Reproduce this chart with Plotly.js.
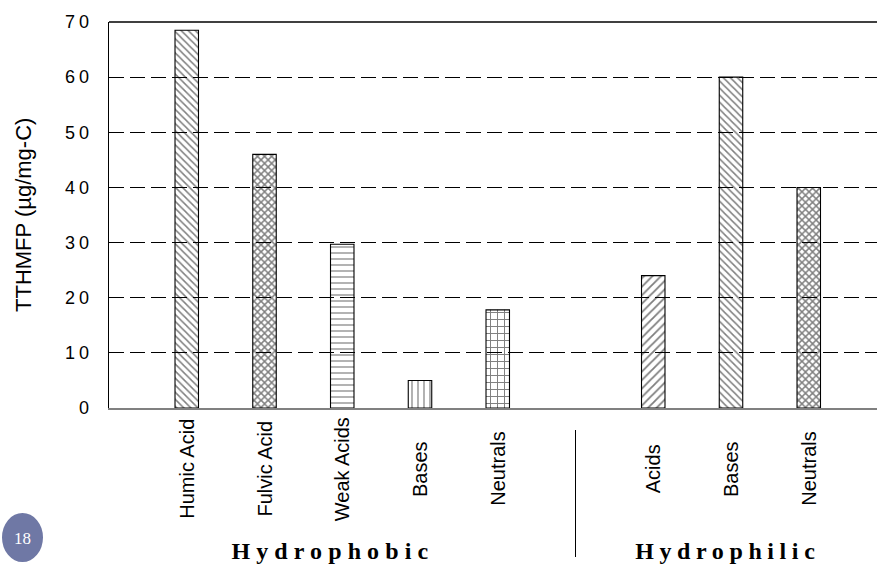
<!DOCTYPE html>
<html>
<head>
<meta charset="utf-8">
<script src="https://cdn.plot.ly/plotly-3.0.1.min.js"></script>
<style>
  html, body { margin: 0; padding: 0; background: #fff; }
  #chart { width: 877px; height: 567px; }
  /* spaced-out tick numbers */
  #chart .ytick text { letter-spacing: 4px; }
</style>
</head>
<body>
<div id="chart"></div>
<script>
// TTHM formation potential of DOM fractions
const hydrophobicLabels = ['Humic Acid', 'Fulvic Acid', 'Weak Acids', 'Bases', 'Neutrals'];
const hydrophobicValues = [68.5, 46, 29.7, 5, 17.8];
const hydrophilicLabels = ['Acids', 'Bases', 'Neutrals'];
const hydrophilicValues = [24, 60, 40];
const groupNames = ['Hydrophobic', 'Hydrophilic'];
const yTickValues = [0, 10, 20, 30, 40, 50, 60, 70];
const yTitle = 'TTHMFP (µg/mg-C)';
const pageNumber = '18';

// fill pattern for each bar, in drawing order
const hatchShapes = ['\\', 'x', '-', '|', '+', '/', '\\', 'x'];
const hatchSizes = [5, 5, 6, 6, 7, 6, 5, 5];
const hatchSolidity = [0.3, 0.5, 0.2, 0.2, 0.26, 0.3, 0.3, 0.5];

// slot positions: hydrophobic fractions first, one empty slot, then hydrophilic
const hydrophobicX = hydrophobicLabels.map((_, i) => i + 1);
const gapX = hydrophobicLabels.length + 1;
const hydrophilicX = hydrophilicLabels.map((_, i) => gapX + i + 1);
const allX = hydrophobicX.concat(hydrophilicX);
const allY = hydrophobicValues.concat(hydrophilicValues);
const allLabels = hydrophobicLabels.concat(hydrophilicLabels);

const W = 877, H = 567;
const M = { l: 109, r: 0, t: 22, b: 159 };
const plotH = H - M.t - M.b;
const plotW = W - M.l - M.r;
// pixel helpers for decorations in the margins
const pyToPaper = py => (H - M.b - py) / plotH;
const pxToPaper = px => (px - M.l) / plotW;

const trace = {
  type: 'bar',
  x: allX,
  y: allY,
  width: 0.302,
  marker: {
    color: 'rgba(255,255,255,0)',
    line: { color: '#000', width: 1.1 },
    pattern: {
      shape: hatchShapes,
      size: hatchSizes,
      solidity: hatchSolidity,
      fgcolor: '#000',
      bgcolor: 'rgba(255,255,255,0)',
      fillmode: 'overlay'
    }
  },
  hoverinfo: 'none'
};

const sans = 'Liberation Sans, Arial, sans-serif';
const annotations = [];
allLabels.forEach((lab, i) => {
  annotations.push({
    text: lab, x: allX[i], xref: 'x', y: pyToPaper(469), yref: 'paper',
    textangle: -90, showarrow: false, xanchor: 'center', yanchor: 'middle',
    font: { family: sans, size: 20, color: '#000' }
  });
});
// y-axis title
annotations.push({
  text: yTitle, x: pxToPaper(23), xref: 'paper', y: 0.5, yref: 'paper',
  textangle: -90, showarrow: false, xanchor: 'center', yanchor: 'middle',
  font: { family: sans, size: 22, color: '#000' }
});
const groupCenters = [
  (hydrophobicX[0] + hydrophobicX[hydrophobicX.length - 1]) / 2,
  (hydrophilicX[0] + hydrophilicX[hydrophilicX.length - 1]) / 2
];
const groupShift = [-9, -3];
const groupSpacing = ['6.1px', '5.6px'];
groupNames.forEach((g, i) => {
  annotations.push({
    text: '<b>' + g + '</b>', x: groupCenters[i], xref: 'x', xshift: groupShift[i],
    y: pyToPaper(551), yref: 'paper', showarrow: false,
    xanchor: 'center', yanchor: 'middle',
    font: { family: 'Liberation Serif, Times New Roman, serif', size: 24, color: '#000' }
  });
});
annotations.push({
  text: pageNumber, x: pxToPaper(22), xref: 'paper', y: pyToPaper(538), yref: 'paper',
  showarrow: false, xanchor: 'center', yanchor: 'middle',
  font: { family: 'Liberation Serif, serif', size: 17, color: '#fff' }
});

const shapes = [
  // solid top border
  { type: 'line', xref: 'paper', yref: 'paper', x0: 0, x1: 1, y0: 1, y1: 1,
    line: { color: '#000', width: 1.3 } },
  // divider between the two fraction groups
  { type: 'line', xref: 'x', yref: 'paper', x0: gapX, x1: gapX,
    y0: pyToPaper(430), y1: pyToPaper(557), line: { color: '#000', width: 1 } },
  // page-number badge
  { type: 'circle', xref: 'paper', yref: 'paper', layer: 'below',
    x0: pxToPaper(2), x1: pxToPaper(43), y0: pyToPaper(562), y1: pyToPaper(513),
    fillcolor: '#6f78a5', line: { width: 0 } }
];

const layout = {
  width: W, height: H,
  margin: M,
  paper_bgcolor: '#fff', plot_bgcolor: 'rgba(0,0,0,0)',
  showlegend: false,
  bargap: 0,
  xaxis: {
    range: [0, plotW / 77.75],
    showgrid: false, zeroline: false,
    showticklabels: false, ticks: '',
    showline: true, linecolor: '#808080', linewidth: 1.5,
    fixedrange: true
  },
  yaxis: {
    range: [0, 70],
    tickvals: yTickValues,
    ticks: '',
    showline: true, linecolor: '#000', linewidth: 1.3,
    showgrid: true, gridcolor: '#000', gridwidth: 1, griddash: '15px,6px',
    zeroline: false,
    tickfont: { family: sans, size: 18, color: '#000' },
    ticklabelstandoff: 11,
    fixedrange: true
  },
  annotations: annotations,
  shapes: shapes
};

Plotly.newPlot('chart', [trace], layout, { staticPlot: true, displayModeBar: false }).then(() => {
  // widen the spacing of the group captions
  document.querySelectorAll('.annotation-text').forEach(t => {
    const k = groupNames.indexOf(t.textContent);
    if (k >= 0) t.setAttribute('letter-spacing', groupSpacing[k]);
  });
});
</script>
</body>
</html>
